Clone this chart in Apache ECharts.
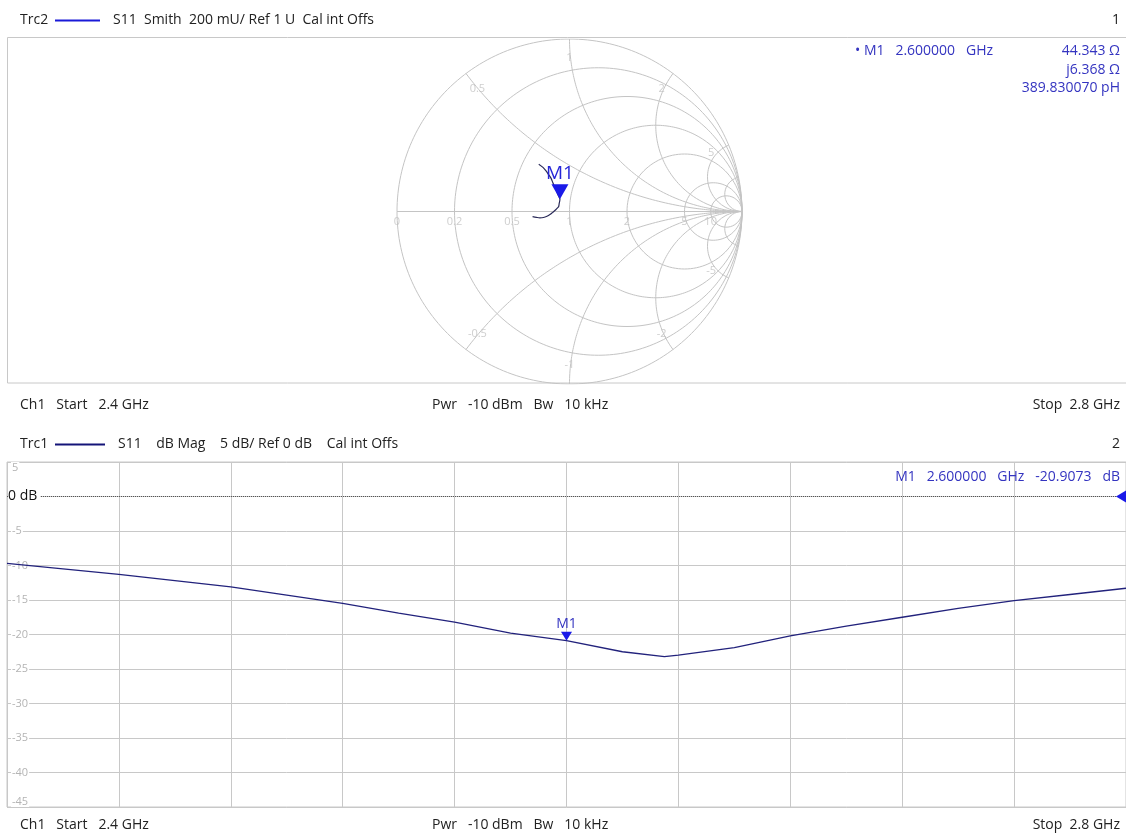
<!DOCTYPE html>
<html>
<head>
<meta charset="utf-8">
<script src="https://cdn.jsdelivr.net/npm/echarts@6/dist/echarts.min.js"></script>
<style>
html, body { margin: 0; padding: 0; background: #fff; }
#main { width: 1126px; height: 837px; }
</style>
</head>
<body>
<div id="main"></div>
<script>
// sweep (MHz / dB / degrees)
var freqMHz  = [2400, 2420, 2440, 2460, 2480, 2500, 2520, 2540, 2560, 2580, 2600, 2620, 2635, 2640, 2660, 2680, 2700, 2720, 2740, 2760, 2780, 2800];
var s11dB    = [-9.7, -10.5, -11.3, -12.2, -13.1, -14.3, -15.5, -16.9, -18.2, -19.8, -20.9, -22.5, -23.2, -23.0, -21.9, -20.2, -18.8, -17.5, -16.2, -15.1, -14.2, -13.3];
var s11Phase = [123, 121, 120, 119.5, 119, 120, 121, 122, 124, 126, 128, 143, 155, 160, 173, 183, 189, 192, 193, 192, 190, 188];

var markerFreq = 2600;
var refLevel = 0;

// smith grid
var smithR = [0, 0.2, 0.5, 1, 2, 5, 10];
var smithX = [0.5, 1, 2, 5, 10, -0.5, -1, -2, -5, -10];
var smithRLabels = [0, 0.2, 0.5, 1, 2, 5, 10];
var smithXLabels = [0.5, 1, 2, 5, -0.5, -1, -2, -5];

var FONT = '"Open Sans", "Noto Sans", sans-serif';
var BLUE = '#3434c0';
var GRID = '#c8c8c8';

var myChart = echarts.init(document.getElementById('main'));

function gamma(r, x) {
    var d = (r + 1) * (r + 1) + x * x;
    return [(r * r - 1 + x * x) / d, 2 * x / d];
}

function rCircle(r) {
    var c = r / (1 + r), rad = 1 / (1 + r), pts = [];
    for (var i = 0; i <= 240; i++) {
        var a = i / 240 * 2 * Math.PI;
        pts.push([c + rad * Math.cos(a), rad * Math.sin(a)]);
    }
    return pts;
}

function xArc(x) {
    var pts = [];
    for (var i = 0; i < 200; i++) {
        var r = Math.tan(i / 200 * Math.PI / 2);
        pts.push(gamma(r, x));
    }
    pts.push([1, 0]);
    return pts;
}

var series = [];
function gridLine(pts) {
    series.push({
        type: 'line', xAxisIndex: 1, yAxisIndex: 3, data: pts,
        symbol: 'none', silent: true, z: 1,
        lineStyle: { color: '#c4c4c4', width: 1 }
    });
}
smithR.forEach(function (r) { gridLine(rCircle(r)); });
smithX.forEach(function (x) { gridLine(xArc(x)); });
gridLine([[-1, 0], [1, 0]]);

// grid labels
var labelData = [];
smithRLabels.forEach(function (r) {
    labelData.push({ value: [(r - 1) / (r + 1), 0], name: String(r), label: { position: 'bottom', distance: 5 } });
});
smithXLabels.forEach(function (x) {
    var g = gamma(0, x);
    labelData.push({ value: [g[0] * 0.89, g[1] * 0.89], name: String(x), label: { position: 'inside' } });
});
series.push({
    type: 'scatter', xAxisIndex: 1, yAxisIndex: 3, data: labelData,
    symbolSize: 0, silent: true, z: 2,
    label: { show: true, formatter: '{b}', color: '#c2c2c2', fontSize: 11, fontFamily: FONT }
});

var mIdx = freqMHz.indexOf(markerFreq);
var smithData = freqMHz.map(function (f, i) {
    var m = Math.pow(10, s11dB[i] / 20), a = s11Phase[i] * Math.PI / 180;
    return [m * Math.cos(a), m * Math.sin(a)];
});

series.push({
    name: 'Trc2', type: 'line', xAxisIndex: 1, yAxisIndex: 3, data: smithData,
    symbol: 'none', smooth: 0.3, z: 3,
    lineStyle: { color: '#2a2a58', width: 1.2 },
    markPoint: {
        silent: true,
        data: [{
            coord: smithData[mIdx], symbol: 'triangle', symbolRotate: 180,
            symbolSize: [17, 15], symbolOffset: [0, -7.5],
            itemStyle: { color: '#1a1ae8' },
            label: { show: true, position: 'top', distance: 1, formatter: 'M1', color: '#2626d8', fontSize: 19, fontFamily: FONT }
        }]
    }
});

series.push({
    name: 'Trc1', type: 'line', xAxisIndex: 0, yAxisIndex: 0,
    data: freqMHz.map(function (f, i) { return [f, s11dB[i]]; }),
    symbol: 'none', z: 3,
    lineStyle: { color: '#22227c', width: 1.3 },
    markLine: {
        silent: true, symbol: ['none', 'none'],
        lineStyle: { type: 'dotted', color: '#555', width: 1 },
        label: { show: false },
        data: [{ yAxis: refLevel }]
    },
    markPoint: {
        silent: true,
        data: [{
            coord: [markerFreq, s11dB[mIdx]], symbol: 'triangle', symbolRotate: 180,
            symbolSize: [11, 9], symbolOffset: [0, -4.5],
            itemStyle: { color: '#1a1ae8' },
            label: { show: true, position: 'top', distance: 1, formatter: 'M1', color: BLUE, fontSize: 14, fontFamily: FONT }
        }, {
            coord: [2800, refLevel], symbol: 'triangle', symbolRotate: 90,
            symbolSize: [12, 10], symbolOffset: [-5, 0],
            itemStyle: { color: '#1a1ae8' },
            label: { show: false }
        }]
    }
});

function txt(x, y, s, align, color, size) {
    return {
        type: 'text', x: x, y: y, z: 10, silent: true,
        style: {
            text: s, fill: color || '#222', font: (size || 14) + 'px ' + FONT,
            textAlign: align || 'left', textVerticalAlign: 'middle'
        }
    };
}

var graphics = [
    { type: 'rect', z: 0, silent: true, shape: { x: 7.5, y: 37.5, width: 1130, height: 345.5 }, style: { fill: 'none', stroke: GRID, lineWidth: 1 } },
    txt(20, 20, 'Trc2'),
    { type: 'line', z: 10, silent: true, shape: { x1: 55, y1: 20.5, x2: 100, y2: 20.5 }, style: { stroke: '#1a1ad8', lineWidth: 2 } },
    txt(113, 20, 'S11  Smith  200 mU/ Ref 1 U  Cal int Offs'),
    txt(1120, 20, '1', 'right'),
    txt(855, 51, '\u2022 M1   2.600000   GHz', 'left', BLUE),
    txt(1120, 51, '44.343 \u03a9', 'right', BLUE),
    txt(1120, 70, 'j6.368 \u03a9', 'right', BLUE),
    txt(1120, 88, '389.830070 pH', 'right', BLUE),
    txt(20, 405, 'Ch1   Start   2.4 GHz'),
    txt(432, 405, 'Pwr   -10 dBm   Bw   10 kHz'),
    txt(1120, 405, 'Stop  2.8 GHz', 'right'),
    txt(20, 444, 'Trc1'),
    { type: 'line', z: 10, silent: true, shape: { x1: 55, y1: 444.5, x2: 105, y2: 444.5 }, style: { stroke: '#141478', lineWidth: 2 } },
    txt(118, 444, 'S11    dB Mag    5 dB/ Ref 0 dB    Cal int Offs'),
    txt(1120, 444, '2', 'right'),
    txt(1120, 477, 'M1   2.600000   GHz   -20.9073   dB', 'right', BLUE),
    txt(20, 825, 'Ch1   Start   2.4 GHz'),
    txt(432, 825, 'Pwr   -10 dBm   Bw   10 kHz'),
    txt(1120, 825, 'Stop  2.8 GHz', 'right')
];

var dbAxisBase = { gridIndex: 0, type: 'value', min: -45, max: 5, interval: 5, position: 'left',
    axisLine: { show: false }, axisTick: { show: false } };

var option = {
    animation: false,
    backgroundColor: '#fff',
    grid: [
        { left: 7, top: 462, width: 1120, height: 345, show: true, borderColor: GRID, borderWidth: 1, backgroundColor: 'transparent' },
        { left: 397, top: 39, width: 345, height: 345 }
    ],
    xAxis: [
        { gridIndex: 0, type: 'value', min: 2400, max: 2800, interval: 40,
          axisLine: { show: false }, axisTick: { show: false }, axisLabel: { show: false },
          splitLine: { show: true, lineStyle: { color: GRID } } },
        { gridIndex: 1, type: 'value', min: -1, max: 1, show: false }
    ],
    yAxis: [
        Object.assign({}, dbAxisBase, { axisLabel: { show: false }, splitLine: { show: true, lineStyle: { color: GRID } } }),
        Object.assign({}, dbAxisBase, { z: 1, splitLine: { show: false },
            axisLabel: { inside: true, margin: 4, color: '#b4b4b4', fontSize: 11, fontFamily: FONT,
                backgroundColor: '#fff', padding: [0, 1],
                verticalAlignMaxLabel: 'top', verticalAlignMinLabel: 'bottom',
                formatter: function (v) { return v === refLevel ? '' : String(v); } } }),
        Object.assign({}, dbAxisBase, { z: 5, splitLine: { show: false },
            axisLabel: { inside: true, margin: 1,
                formatter: function (v) { return v === refLevel ? '{r|0 dB}' : ''; },
                rich: { r: { color: '#111', fontSize: 14, fontFamily: FONT, backgroundColor: '#fff', padding: [0, 3, 0, 0] } } } }),
        { gridIndex: 1, type: 'value', min: -1, max: 1, show: false }
    ],
    graphic: graphics,
    series: series
};
myChart.setOption(option);
</script>
</body>
</html>
